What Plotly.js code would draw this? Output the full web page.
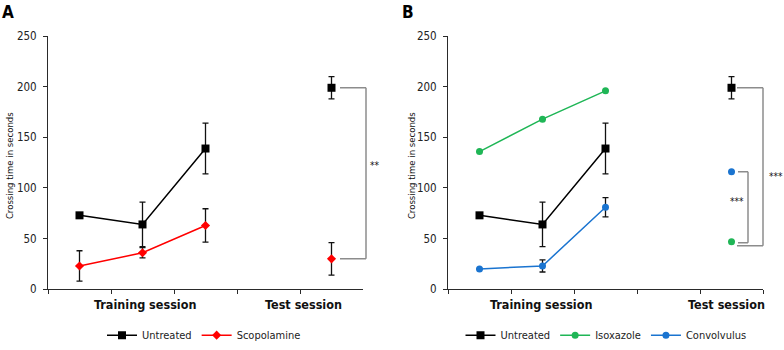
<!DOCTYPE html>
<html>
<head>
<meta charset="utf-8">
<script src="https://cdn.plot.ly/plotly-3.0.1.min.js"></script>
<style>html,body{margin:0;padding:0;background:#fff;}#chart{width:784px;height:350px;}</style>
</head>
<body>
<div id="chart"></div>
<script>
// ---- data ----
const sessions = ['Training 1', 'Training 2', 'Training 3', 'Gap', 'Test'];
const groupLabels = ['Training session', 'Test session'];
const panelLabels = ['A', 'B'];
const yTitle = 'Crossing time in seconds';

const untreated = [73, 64, 139, null, 199];
const untreatedErr = [2, 22, 25, null, 11];

const scopolamine = [23, 36, 63, null, 30];
const scopolamineErr = [15, 5, 16.5, null, 16];

const isoxazole = [136, 168, 196, null, 47];
const isoxazoleErr = [0, 0, 0, null, 0];

const convolvulus = [20, 23, 81, null, 116];
const convolvulusErr = [0, 6, 9.5, null, 0];

const sigA = '**';
const sigB = ['***', '***'];

// ---- styling ----
const FONT = 'DejaVu Sans Condensed, DejaVu Sans, sans-serif';
const AX = '#2a2a2a';
const GREEN = '#1fb656';
const BLUE = '#1a74d0';
const RED = '#ff0000';

function errObj(arr) {
  return {type: 'data', array: arr, visible: true, color: '#111', thickness: 1.3, width: 3};
}
function trace(name, y, err, color, symbol, size, xa, ya, legend) {
  return {
    type: 'scatter', mode: 'lines+markers', name: name,
    x: sessions, y: y, xaxis: xa, yaxis: ya, connectgaps: false,
    line: {color: color, width: 1.5},
    marker: {color: color, symbol: symbol, size: size},
    error_y: errObj(err), legend: legend, showlegend: true,
    cliponaxis: false
  };
}

const data = [
  trace('Untreated', untreated, untreatedErr, '#000', 'square', 8, 'x', 'y', 'legend'),
  trace('Scopolamine', scopolamine, scopolamineErr, RED, 'diamond', 7, 'x', 'y', 'legend'),
  trace('Untreated', untreated, untreatedErr, '#000', 'square', 8, 'x2', 'y2', 'legend2'),
  trace('Isoxazole', isoxazole, isoxazoleErr, GREEN, 'circle', 7, 'x2', 'y2', 'legend2'),
  trace('Convolvulus', convolvulus, convolvulusErr, BLUE, 'circle', 7, 'x2', 'y2', 'legend2')
];

function xaxis(domain, anchor) {
  return {
    domain: domain, anchor: anchor, type: 'category', categoryarray: sessions,
    categoryorder: 'array', range: [-0.5, 4.5], tickson: 'boundaries',
    showticklabels: false, ticks: 'outside', ticklen: 4, tickcolor: AX, tickwidth: 1,
    showline: true, linecolor: AX, linewidth: 1, showgrid: false, zeroline: false,
    fixedrange: true
  };
}
function yaxis(anchor) {
  return {
    domain: [0.1543, 0.8943], anchor: anchor, range: [0, 250],
    tickvals: [0, 50, 100, 150, 200, 250], ticks: 'outside', ticklen: 4, tickcolor: AX,
    showline: true, linecolor: AX, linewidth: 1, showgrid: false, zeroline: false,
    tickfont: {family: FONT, size: 11.5, color: '#222'}, ticklabelstandoff: 4,
    fixedrange: true
  };
}

const GRAY = '#8c8c8c';
function bracket(x0, x1, yTop, yBot, yref) {
  return [
    {type: 'line', xref: 'paper', yref: yref, x0: x0, x1: x1, y0: yTop, y1: yTop, line: {color: GRAY, width: 1.5}},
    {type: 'line', xref: 'paper', yref: yref, x0: x1, x1: x1, y0: yTop, y1: yBot, line: {color: GRAY, width: 1.5}},
    {type: 'line', xref: 'paper', yref: yref, x0: x1, x1: x0, y0: yBot, y1: yBot, line: {color: GRAY, width: 1.5}}
  ];
}
const px = v => v / 784;
const py = v => (350 - v) / 350;
const shapes = [].concat(
  bracket(px(340), px(366), untreated[4], scopolamine[4], 'y'),
  bracket(px(738), px(748), convolvulus[4], isoxazole[4] - 1, 'y2'),
  bracket(px(737), px(763), untreated[4], isoxazole[4] - 4, 'y2')
);

function ann(text, x, y, size, extra) {
  return Object.assign({text: text, xref: 'paper', yref: 'paper', x: x, y: y,
    xanchor: 'center', yanchor: 'middle', showarrow: false,
    font: {family: FONT, size: size, color: '#111'}}, extra || {});
}

const annotations = [
  ann('<b>' + panelLabels[0] + '</b>', 0, 1, 17, {xanchor: 'left', yanchor: 'top', font: {family: FONT, size: 17, color: '#000'}}),
  ann('<b>' + panelLabels[1] + '</b>', px(400), 1, 17, {xanchor: 'left', yanchor: 'top', font: {family: FONT, size: 17, color: '#000'}}),
  ann(yTitle, px(9), py(170), 9.5, {textangle: -90}),
  ann(yTitle, px(411), py(170), 9.5, {textangle: -90}),
  ann('<b>' + groupLabels[0] + '</b>', px(145), py(312), 12.5),
  ann('<b>' + groupLabels[1] + '</b>', px(303), py(312), 12.5),
  ann('<b>' + groupLabels[0] + '</b>', px(541), py(312), 12.5),
  ann('<b>' + groupLabels[1] + '</b>', px(726), py(312), 12.5),
  ann(sigA, px(374), 122, 10, {yref: 'y'}),
  ann(sigB[0], px(737), 87, 10, {yref: 'y2'}),
  ann(sigB[1], px(776), 111, 10, {yref: 'y2'})
];

const legendCommon = {
  orientation: 'h', yref: 'paper', y: py(343), yanchor: 'middle', xanchor: 'center',
  font: {family: FONT, size: 11, color: '#222'}, bgcolor: 'rgba(0,0,0,0)',
  itemwidth: 30, tracegroupgap: 0, itemclick: false, itemdoubleclick: false
};

const layout = {
  width: 784, height: 350,
  margin: {l: 0, r: 0, t: 0, b: 0},
  paper_bgcolor: '#fff', plot_bgcolor: '#fff',
  font: {family: FONT, color: '#222'},
  showlegend: true,
  xaxis: xaxis([px(48), px(363)], 'y'),
  yaxis: yaxis('x'),
  xaxis2: xaxis([px(448), px(763)], 'y2'),
  yaxis2: yaxis('x2'),
  legend: Object.assign({}, legendCommon, {x: px(204)}),
  legend2: Object.assign({}, legendCommon, {x: px(606)}),
  shapes: shapes,
  annotations: annotations
};

Plotly.newPlot('chart', data, layout, {displayModeBar: false, staticPlot: true});
</script>
</body>
</html>
